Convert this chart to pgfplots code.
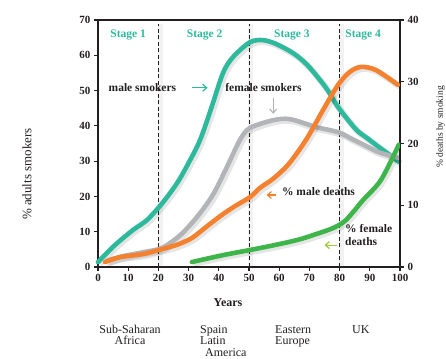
\documentclass[border=0pt]{standalone}
\usepackage{pgfplots}
\pgfplotsset{compat=1.18}
\usetikzlibrary{arrows.meta}
\usepackage{fontspec}
\setmainfont{Liberation Serif}
\definecolor{cteal}{RGB}{45,185,155}
\definecolor{cgray}{RGB}{178,180,184}
\definecolor{corange}{RGB}{245,128,45}
\definecolor{cgreen}{RGB}{62,181,74}
\definecolor{clime}{RGB}{155,200,60}
\definecolor{ctext}{RGB}{35,31,32}
\tikzset{
  stagelbl/.style={text=cteal, font=\fontsize{11.5}{13}\selectfont\bfseries},
  annot/.style={text=ctext, font=\fontsize{11.5}{13}\selectfont\bfseries},
}
\begin{document}
\begin{tikzpicture}[x=1pt,y=1pt]
\pgfplotsset{
  shadow/.style={black, opacity=0.10, line width=6.5pt, xshift=1.8pt, yshift=-1.8pt, smooth, no marks},
  curve/.style={line width=4.6pt, smooth, no marks, line cap=round, line join=round},
}
\begin{axis}[
  at={(98pt,91pt)}, anchor=south west,
  scale only axis, width=302pt, height=247pt,
  xmin=0, xmax=100, ymin=0, ymax=70,
  xtick={0,10,...,100}, ytick={0,10,...,70},
  xtick pos=bottom, ytick pos=left,
  tick align=outside, major tick length=4pt,
  axis line style={line width=1.1pt, ctext},
  every tick/.style={line width=1.1pt, ctext},
  tick label style={font=\fontsize{11}{13}\selectfont\bfseries, text=ctext},
  /pgf/number format/assume math mode=true,
  clip=false,
]
% dashed stage lines with glow
\addplot[gray, opacity=0.10, line width=5pt, no marks, forget plot] coordinates {(20.6,0) (20.6,69)};
\addplot[gray, opacity=0.10, line width=5pt, no marks, forget plot] coordinates {(50.6,0) (50.6,69)};
\addplot[gray, opacity=0.10, line width=5pt, no marks, forget plot] coordinates {(80.6,0) (80.6,69)};
\addplot[ctext, line width=1pt, dash pattern=on 4pt off 2.5pt, no marks] coordinates {(20,0) (20,69)};
\addplot[ctext, line width=1pt, dash pattern=on 4pt off 2.5pt, no marks] coordinates {(50.1,0) (50.1,69)};
\addplot[ctext, line width=1pt, dash pattern=on 4pt off 2.5pt, no marks] coordinates {(80,0) (80,69)};
% male smokers
\addplot[shadow] coordinates {(0,1.4) (5.6,6.2) (11.6,10.5) (16.2,13.3) (21.2,18) (26.2,23.8) (30,29.5) (33.8,36) (37.5,45) (41.4,55) (44.7,59.5) (50.3,63.7) (54.6,64.3) (59,63.2) (64.6,60.6) (69,57.5) (73.5,53) (76.5,49.5) (79.5,45.3) (85.4,39) (89,36.6) (93,34) (97,31.5) (99.6,29.8)};
\addplot[curve, cteal] coordinates {(0,1.4) (5.6,6.2) (11.6,10.5) (16.2,13.3) (21.2,18) (26.2,23.8) (30,29.5) (33.8,36) (37.5,45) (41.4,55) (44.7,59.5) (50.3,63.7) (54.6,64.3) (59,63.2) (64.6,60.6) (69,57.5) (73.5,53) (76.5,49.5) (79.5,45.3) (85.4,39) (89,36.6) (93,34) (97,31.5) (99.6,29.8)};
% female smokers
\addplot[shadow] coordinates {(3,1.8) (8,3) (15,4.2) (21.2,5.4) (27.2,9) (32.8,14.2) (38,20.4) (42.5,28) (47,36) (50.3,39.4) (58,41.6) (63.6,41.9) (72,39.7) (79.5,38.2) (84,36.3) (88.7,34.3) (93,32.5) (99.6,30.9)};
\addplot[curve, cgray] coordinates {(3,1.8) (8,3) (15,4.2) (21.2,5.4) (27.2,9) (32.8,14.2) (38,20.4) (42.5,28) (47,36) (50.3,39.4) (58,41.6) (63.6,41.9) (72,39.7) (79.5,38.2) (84,36.3) (88.7,34.3) (93,32.5) (99.6,30.9)};
% annotations
\node[stagelbl] at (axis cs:10,65.9) {Stage 1};
\node[stagelbl] at (axis cs:35.3,65.9) {Stage 2};
\node[stagelbl] at (axis cs:64.2,65.7) {Stage 3};
\node[stagelbl] at (axis cs:87.8,65.7) {Stage 4};
\node[annot] at (axis cs:14.7,50.8) {male smokers};
\node[annot] at (axis cs:54.8,50.8) {female smokers};
\draw[cteal, line width=1.2pt, -{Straight Barb[length=4pt,width=7pt]}] (axis cs:31.1,50.8) -- (axis cs:36.3,50.8);
\draw[cgray, line width=1.2pt, -{Straight Barb[length=4pt,width=7pt]}] (axis cs:58,48) -- (axis cs:58,43.4);
\node[annot, anchor=west] at (axis cs:59.8,21.3) {\% male deaths};
\draw[corange, line width=1.2pt, -{Straight Barb[length=4pt,width=7pt]}] (axis cs:58.8,20.4) -- (axis cs:55.8,20.4);
\node[annot, anchor=west, align=left, inner sep=0pt] at (axis cs:81.8,9.2) {\% female\\deaths};
\draw[clime, line width=1.2pt, -{Straight Barb[length=4pt,width=7pt]}] (axis cs:79.2,6.2) -- (axis cs:75,6.2);
\end{axis}
\begin{axis}[
  at={(98pt,91pt)}, anchor=south west,
  scale only axis, width=302pt, height=247pt,
  xmin=0, xmax=100, ymin=0, ymax=40,
  axis x line=none, axis y line*=right,
  ytick={0,10,...,40},
  tick align=outside, major tick length=4pt,
  axis line style={line width=1.1pt, ctext, -},
  every tick/.style={line width=1.1pt, ctext},
  tick label style={font=\fontsize{11}{13}\selectfont\bfseries, text=ctext},
  /pgf/number format/assume math mode=true,
]
% male deaths
\addplot[shadow] coordinates {(2.3,0.8) (7.3,1.6) (15,2.1) (21.2,2.9) (26.2,3.6) (31.1,4.7) (36.1,6.6) (41.2,8.5) (45.5,9.9) (50.3,11.3) (53.6,12.8) (58,14.3) (63,16.6) (68.9,20.6) (74.5,25.4) (79.5,29.5) (83.4,31.6) (87.1,32.4) (92,31.9) (99.3,29.5)};
\addplot[curve, corange] coordinates {(2.3,0.8) (7.3,1.6) (15,2.1) (21.2,2.9) (26.2,3.6) (31.1,4.7) (36.1,6.6) (41.2,8.5) (45.5,9.9) (50.3,11.3) (53.6,12.8) (58,14.3) (63,16.6) (68.9,20.6) (74.5,25.4) (79.5,29.5) (83.4,31.6) (87.1,32.4) (92,31.9) (99.3,29.5)};
% female deaths
\addplot[shadow] coordinates {(31.1,0.8) (41.2,1.9) (50.3,2.75) (58,3.5) (66.2,4.4) (72,5.3) (77.8,6.3) (82.1,7.6) (87.7,10.8) (93.7,14.1) (99.6,19.8)};
\addplot[curve, cgreen] coordinates {(31.1,0.8) (41.2,1.9) (50.3,2.75) (58,3.5) (66.2,4.4) (72,5.3) (77.8,6.3) (82.1,7.6) (87.7,10.8) (93.7,14.1) (99.6,19.8)};
\end{axis}
% outer texts
\node[text=ctext, font=\fontsize{12}{14}\selectfont\bfseries] at (228pt,55pt) {Years};
\node[text=ctext, rotate=90, font=\fontsize{13}{15}\selectfont] at (27pt,184pt) {\% adults smokers};
\node[text=ctext, rotate=90, inner sep=0pt, font=\fontsize{9.5}{11}\selectfont] at (440.5pt,231pt) {\% deaths by smoking};
\begin{scope}[every node/.style={inner sep=0pt, text=ctext, font=\fontsize{12}{11.6}\selectfont}]
\node[anchor=base, align=center] at (130pt,13.1pt) {Sub-Saharan\\Africa};
\node[anchor=base west, align=left] at (200pt,1.5pt) {Spain\\Latin\\\hspace*{5pt}America};
\node[anchor=base west, align=left] at (275pt,13.1pt) {Eastern\\Europe};
\node[anchor=base west] at (352pt,24.7pt) {UK};
\end{scope}
\pgfresetboundingbox
\useasboundingbox (0,0) rectangle (446pt,358pt);
\end{tikzpicture}
\end{document}
